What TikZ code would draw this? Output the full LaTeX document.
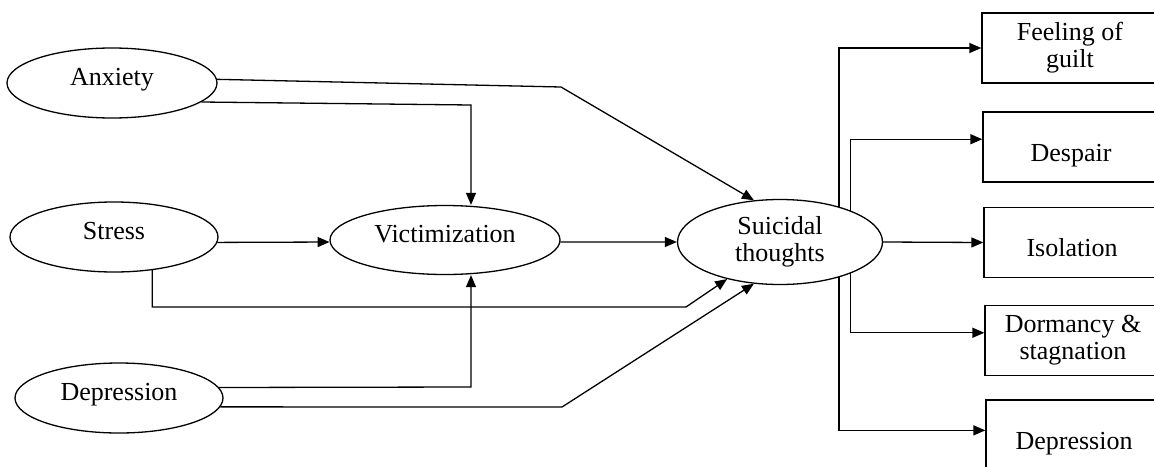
\documentclass[tikz,border=0pt]{standalone}
\usepackage{fontspec}
\setmainfont{Liberation Serif}
\usetikzlibrary{shapes.geometric,arrows.meta}
\begin{document}
\begin{tikzpicture}[x=0.5pt, y=-0.5pt, line width=0.65pt,
		font=\fontsize{13}{13.5}\selectfont,
		oval/.style={ellipse, draw, inner sep=0pt, text height=9pt, text depth=6.4pt},
		card/.style={rectangle, draw, inner sep=0pt, minimum width=88pt, minimum height=35pt},
		cardone/.style={card, text height=14pt, text depth=0pt},
		arr/.style={-{Triangle[length=6pt, width=5pt]}}]
		\useasboundingbox (0,0) rectangle (1154,466);
		\clip (0,0) rectangle (1154,466);

		% causes
		\node[oval, minimum width=105pt, minimum height=35pt] (anx) at (112,83) {Anxiety};
		\node[oval, minimum width=104pt, minimum height=35pt] (str) at (114,237) {Stress};
		\node[oval, minimum width=104pt, minimum height=35pt] (dep) at (119,398) {Depression};
		\node[oval, minimum width=115pt, minimum height=34.5pt] (vic) at (445,240) {Victimization};
		\node[ellipse, draw, inner sep=0pt, align=center, minimum width=102.5pt, minimum height=42.5pt] (sui) at (780,242) {Suicidal\\thoughts};

		% effects
		\node[card, align=center] (guilt) at (1070,48) {Feeling of\\guilt};
		\node[cardone] (desp) at (1071,147) {Despair};
		\node[cardone] (iso) at (1072,242.5) {Isolation};
		\node[card, align=center] (dorm) at (1073,340.5) {Dormancy \&\\stagnation};
		\node[cardone] (dep2) at (1074,435) {Depression};

		\coordinate (ka) at (561,87);
		\coordinate (kb) at (471,105);
		\coordinate (kc) at (686,307);
		\coordinate (kd) at (471,387);
		\coordinate (ke) at (562,407);

		\draw[arr] (anx.2) -- (ka) -- (sui.122);
		\draw[arr] (anx.-12) -- (kb) -- (kb |- vic.north);
		\draw[arr] (str.-3) -- (vic.181);
		\draw[arr] (str.-41) |- (kc) -- (sui.215);
		\draw[arr] (dep.6) -- (kd) -- (kd |- vic.south);
		\draw[arr] (dep.-5) -- (ke) -- (sui.238);
		\draw[arr] (vic.-1) -- (sui.west);

		\draw[arr] (sui.31) |- (guilt.west);
		\draw[arr] (sui.24) |- (desp.175);
		\draw[arr] (sui.east) -- (iso.west);
		\draw[arr] (sui.-24) |- (dorm.175);
		\draw[arr] (sui.-31) |- (dep2.177);
	\end{tikzpicture}
\end{document}
